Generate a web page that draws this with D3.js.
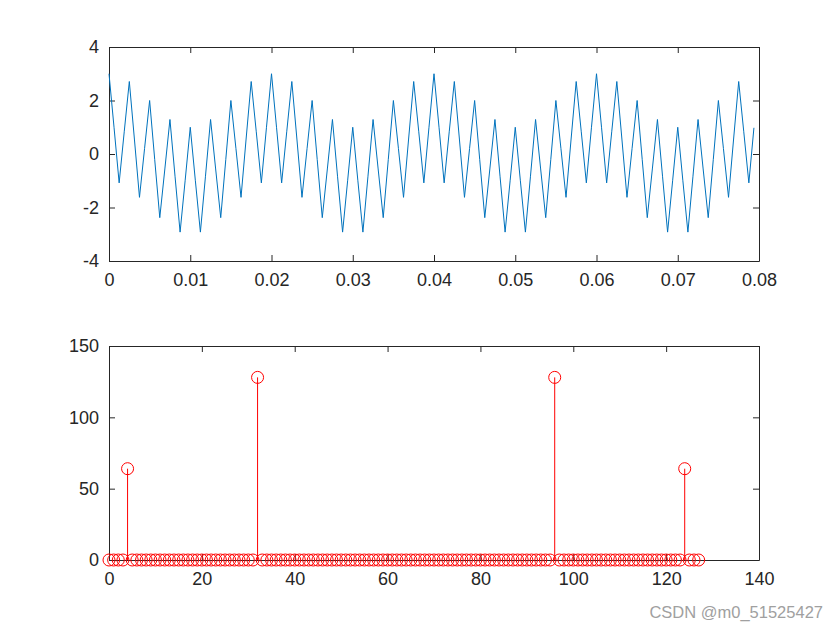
<!DOCTYPE html>
<html>
<head>
<meta charset="utf-8">
<script src="https://cdn.jsdelivr.net/npm/d3@7"></script>
<style>
  body { margin: 0; background: #fff; }
  svg { display: block; font-family: "Liberation Sans", Arial, sans-serif; }
</style>
</head>
<body>
<svg id="fig" width="840" height="630"></svg>
<script>
// signal samples, fs = 1600 Hz (dt = 0.000625 s), 128 points
var sampleStep = 0.000625;
var signal = [
  3, 0.98, -1.08, 0.83, 2.71, 0.56, -1.62, 0.2, 2, -0.2, -2.38, -0.56, 1.29, -0.83, -2.92, -0.98,
  1, -0.98, -2.92, -0.83, 1.29, -0.56, -2.38, -0.2, 2, 0.2, -1.62, 0.56, 2.71, 0.83, -1.08, 0.98,
  3, 0.98, -1.08, 0.83, 2.71, 0.56, -1.62, 0.2, 2, -0.2, -2.38, -0.56, 1.29, -0.83, -2.92, -0.98,
  1, -0.98, -2.92, -0.83, 1.29, -0.56, -2.38, -0.2, 2, 0.2, -1.62, 0.56, 2.71, 0.83, -1.08, 0.98,
  3, 0.98, -1.08, 0.83, 2.71, 0.56, -1.62, 0.2, 2, -0.2, -2.38, -0.56, 1.29, -0.83, -2.92, -0.98,
  1, -0.98, -2.92, -0.83, 1.29, -0.56, -2.38, -0.2, 2, 0.2, -1.62, 0.56, 2.71, 0.83, -1.08, 0.98,
  3, 0.98, -1.08, 0.83, 2.71, 0.56, -1.62, 0.2, 2, -0.2, -2.38, -0.56, 1.29, -0.83, -2.92, -0.98,
  1, -0.98, -2.92, -0.83, 1.29, -0.56, -2.38, -0.2, 2, 0.2, -1.62, 0.56, 2.71, 0.83, -1.08, 0.98
];

// |FFT| magnitudes, index 0..127
var magnitude = [
  0, 0, 0, 0, 64, 0, 0, 0, 0, 0, 0, 0, 0, 0, 0, 0,
  0, 0, 0, 0, 0, 0, 0, 0, 0, 0, 0, 0, 0, 0, 0, 0,
  128, 0, 0, 0, 0, 0, 0, 0, 0, 0, 0, 0, 0, 0, 0, 0,
  0, 0, 0, 0, 0, 0, 0, 0, 0, 0, 0, 0, 0, 0, 0, 0,
  0, 0, 0, 0, 0, 0, 0, 0, 0, 0, 0, 0, 0, 0, 0, 0,
  0, 0, 0, 0, 0, 0, 0, 0, 0, 0, 0, 0, 0, 0, 0, 0,
  128, 0, 0, 0, 0, 0, 0, 0, 0, 0, 0, 0, 0, 0, 0, 0,
  0, 0, 0, 0, 0, 0, 0, 0, 0, 0, 0, 0, 64, 0, 0, 0
];

var topXTicks = [0, 0.01, 0.02, 0.03, 0.04, 0.05, 0.06, 0.07, 0.08];
var topYTicks = [-4, -2, 0, 2, 4];
var botXTicks = [0, 20, 40, 60, 80, 100, 120, 140];
var botYTicks = [0, 50, 100, 150];

var svg = d3.select("#fig");
var left = 109, right = 759;
var axisColor = "#262626";
var fontSize = "18px";
var plain = d => String(d);   // ASCII hyphen for negatives, like MATLAB

function drawAxes(xs, ys, xt, yt) {
  var top = ys.range()[1], bottom = ys.range()[0];
  var g = svg.append("g");

  g.append("g")
    .attr("transform", "translate(0," + bottom + ")")
    .call(d3.axisBottom(xs).tickValues(xt).tickSize(-6).tickSizeOuter(0).tickPadding(12).tickFormat(plain));
  g.append("g")
    .attr("transform", "translate(0," + top + ")")
    .call(d3.axisTop(xs).tickValues(xt).tickSize(-6).tickSizeOuter(0).tickFormat(""));
  g.append("g")
    .attr("transform", "translate(" + left + ",0)")
    .call(d3.axisLeft(ys).tickValues(yt).tickSize(-6).tickSizeOuter(0).tickPadding(10).tickFormat(plain));
  g.append("g")
    .attr("transform", "translate(" + right + ",0)")
    .call(d3.axisRight(ys).tickValues(yt).tickSize(-6).tickSizeOuter(0).tickFormat(""));

  g.selectAll(".domain").attr("stroke", axisColor).attr("stroke-width", 1);
  g.selectAll(".tick line").attr("stroke", axisColor).attr("stroke-width", 1);
  g.selectAll(".tick text").attr("fill", axisColor).style("font-size", fontSize)
    .style("font-family", "'Liberation Sans', Arial, sans-serif");
  return g;
}

// top subplot: time signal
var x1 = d3.scaleLinear().domain([0, 0.08]).range([left, right]);
var y1 = d3.scaleLinear().domain([-4, 4]).range([261, 47]);
drawAxes(x1, y1, topXTicks, topYTicks);

var line = d3.line()
  .x((d, i) => x1(i * sampleStep))
  .y(d => y1(d));

svg.append("path")
  .datum(signal)
  .attr("d", line)
  .attr("fill", "none")
  .attr("stroke", "#0072BD")
  .attr("stroke-width", 1);

// bottom subplot: stem of magnitudes
var x2 = d3.scaleLinear().domain([0, 140]).range([left, right]);
var y2 = d3.scaleLinear().domain([0, 150]).range([560, 346]);
drawAxes(x2, y2, botXTicks, botYTicks);

var stems = svg.append("g").selectAll("g")
  .data(magnitude)
  .enter()
    .append("g");

stems.append("line")
  .attr("x1", (d, i) => x2(i))
  .attr("x2", (d, i) => x2(i))
  .attr("y1", y2(0))
  .attr("y2", d => y2(d))
  .attr("stroke", "#FF0000")
  .attr("stroke-width", 1);

stems.append("circle")
  .attr("cx", (d, i) => x2(i))
  .attr("cy", d => y2(d))
  .attr("r", 6)
  .attr("fill", "none")
  .attr("stroke", "#FF0000")
  .attr("stroke-width", 1);

// watermark
svg.append("text")
  .attr("x", 823)
  .attr("y", 618)
  .attr("text-anchor", "end")
  .attr("fill", "#a0a0a0")
  .style("font-size", "16.5px")
  .text("CSDN @m0_51525427");
</script>
</body>
</html>
